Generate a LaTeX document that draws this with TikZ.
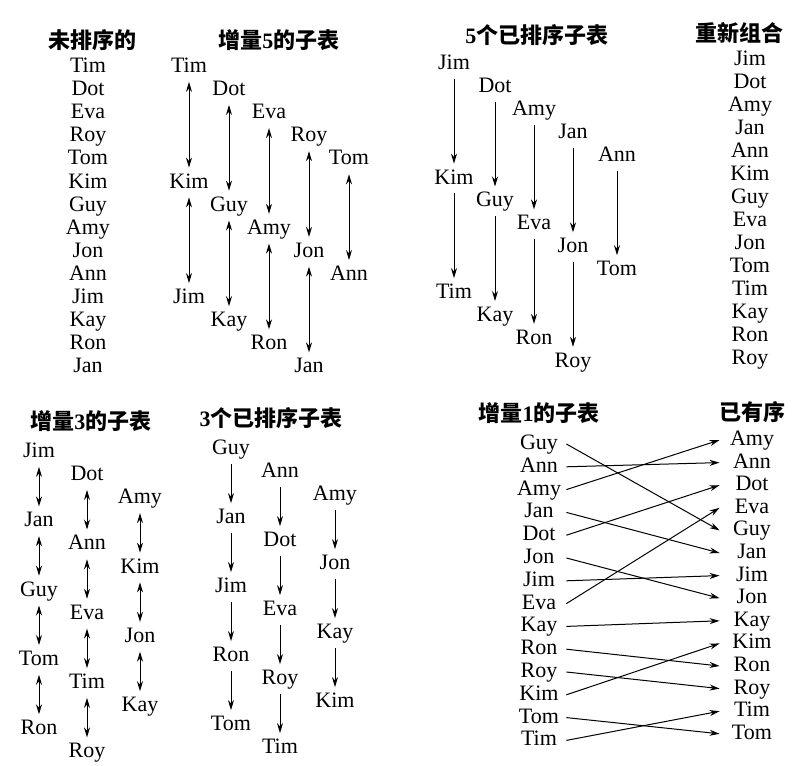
\documentclass[tikz,border=0pt]{standalone}
\usepackage{fontspec}
\setmainfont{Liberation Serif}
\newfontfamily\cjk{Noto Sans CJK SC}
\usetikzlibrary{arrows.meta}

\begin{document}
\begin{tikzpicture}[x=0.5pt, y=-0.5pt,
    entry/.style={inner sep=1pt, yshift=-1pt, text height=7.5pt, text depth=2pt, font=\fontsize{11}{13}\selectfont},
    heading/.style={inner sep=0pt, font=\fontsize{11}{13}\selectfont\cjk\bfseries},
    xchg/.style={<->, >={Stealth[length=5pt,width=3pt]}, line width=.5pt, shorten <=1.5pt, shorten >=1.5pt},
    drop/.style={->, >={Stealth[length=5pt,width=3pt]}, line width=.5pt, shorten <=1.5pt, shorten >=1.5pt},
    move/.style={->, >={Stealth[length=5pt,width=3pt]}, line width=.5pt}
]
    \path[fill=white] (0,0) rectangle (800,766);

    % Unsorted list
    \node[heading] (hd-un) at (92,40) {未排序的};
    \foreach \n [count=\k from 0] in {Tim,Dot,Eva,Roy,Tom,Kim,Guy,Amy,Jon,Ann,Jim,Kay,Ron,Jan}
        \node[entry] (un-\n) at (88, 65+23.1*\k) {\n};

    % Increment 5 sublists
    \node[heading] (hd-i5) at (279,40) {增量\textrm{5}的子表};
    \foreach \n [count=\k from 0] in {Tim,Dot,Eva,Roy,Tom,Kim,Guy,Amy,Jon,Ann,Jim,Kay,Ron,Jan}
        \node[entry] (i5-\n) at ({189+40*mod(\k,5)}, 65+23.1*\k) {\n};
    \foreach \a/\b in {Tim/Kim,Kim/Jim,Dot/Guy,Guy/Kay,Eva/Amy,Amy/Ron,Roy/Jon,Jon/Jan,Tom/Ann}
        \draw[xchg] (i5-\a) -- (i5-\b);

    % Five sorted sublists
    \node[heading] (hd-s5) at (537,35) {\textrm{5}个已排序子表};
    \foreach \n [count=\k from 0] in {Jim,Dot,Amy,Jan,Ann,Kim,Guy,Eva,Jon,Tom,Tim,Kay,Ron,Roy}
        \node[entry] (s5-\n) at ({{454,495,534,573,617}[mod(\k,5)]}, 62+22.9*\k) {\n};
    \foreach \a/\b in {Jim/Kim,Kim/Tim,Dot/Guy,Guy/Kay,Amy/Eva,Eva/Ron,Jan/Jon,Jon/Roy,Ann/Tom}
        \draw[drop] (s5-\a) -- (s5-\b);

    % Regrouped list
    \node[heading] (hd-rg) at (739,33) {重新组合};
    \foreach \n [count=\k from 0] in {Jim,Dot,Amy,Jan,Ann,Kim,Guy,Eva,Jon,Tom,Tim,Kay,Ron,Roy}
        \node[entry] (rg-\n) at (750, 58+23*\k) {\n};

    % Increment 3 sublists
    \node[heading] (hd-i3) at (91,421) {增量\textrm{3}的子表};
    \foreach \n [count=\k from 0] in {Jim,Dot,Amy,Jan,Ann,Kim,Guy,Eva,Jon,Tom,Tim,Kay,Ron,Roy}
        \node[entry] (i3-\n) at ({{39,87,140}[mod(\k,3)]}, 450+23.1*\k) {\n};
    \foreach \a/\b in {Jim/Jan,Jan/Guy,Guy/Tom,Tom/Ron,Dot/Ann,Ann/Eva,Eva/Tim,Tim/Roy,Amy/Kim,Kim/Jon,Jon/Kay}
        \draw[xchg] (i3-\a) -- (i3-\b);

    % Three sorted sublists
    \node[heading] (hd-s3) at (271,418) {\textrm{3}个已排序子表};
    \foreach \n [count=\k from 0] in {Guy,Ann,Amy,Jan,Dot,Jon,Jim,Eva,Kay,Ron,Roy,Kim,Tom,Tim}
        \node[entry] (s3-\n) at ({{231,280,335}[mod(\k,3)]}, 447+23*\k) {\n};
    \foreach \a/\b in {Guy/Jan,Jan/Jim,Jim/Ron,Ron/Tom,Ann/Dot,Dot/Eva,Eva/Roy,Roy/Tim,Amy/Jon,Jon/Kay,Kay/Kim}
        \draw[drop] (s3-\a) -- (s3-\b);

    % Increment 1 and final order
    \node[heading] (hd-i1) at (539,413) {增量\textrm{1}的子表};
    \node[heading] (hd-ok) at (752,412) {已有序};
    \foreach \n [count=\k from 0] in {Guy,Ann,Amy,Jan,Dot,Jon,Jim,Eva,Kay,Ron,Roy,Kim,Tom,Tim}
        \node[entry, minimum width=27pt, inner sep=0pt] (i1-\n) at (539, 442+22.8*\k) {\n};
    \foreach \n [count=\k from 0] in {Amy,Ann,Dot,Eva,Guy,Jan,Jim,Jon,Kay,Kim,Ron,Roy,Tim,Tom}
        \node[entry, minimum width=32pt, inner sep=0pt] (ok-\n) at (752, 438+22.6*\k) {\n};
    \foreach \n in {Guy,Ann,Amy,Jan,Dot,Jon,Jim,Eva,Kay,Ron,Roy,Kim,Tom,Tim}
        \draw[move] (i1-\n.east) -- (ok-\n.west);

\end{tikzpicture}
\end{document}
